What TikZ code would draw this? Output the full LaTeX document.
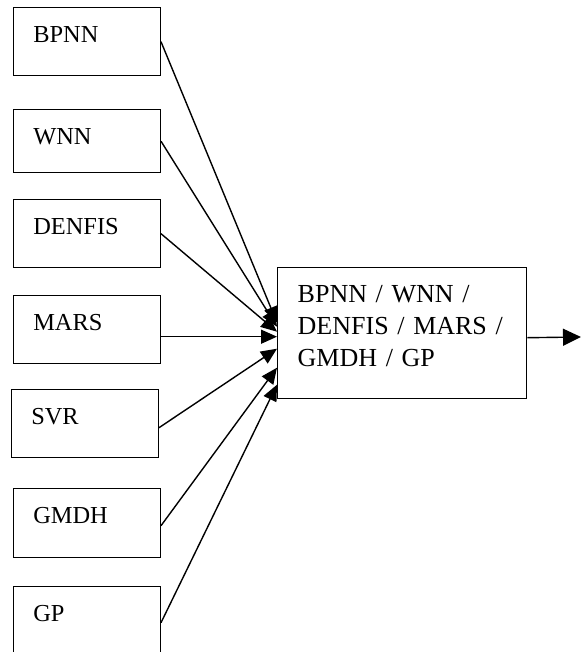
\documentclass[tikz,border=0pt]{standalone}
\usepackage{fontspec}
\setmainfont{Liberation Serif}
\usetikzlibrary{arrows.meta}
\tikzstyle{model}=[draw,line width=0.7pt,anchor=north east,inner xsep=10pt,inner ysep=0pt,
  text width=53.5pt,align=left,text height=17.5pt,text depth=16.5pt,font=\fontsize{12.2}{14}\selectfont]
\tikzstyle{hybrid}=[draw,line width=0.7pt,anchor=north west,inner xsep=10pt,inner ysep=0pt,
  text width=104.5pt,align=left,text height=17.5pt,text depth=48pt,font=\fontsize{13}{15.85}\selectfont]
\tikzstyle{edge} = [draw,line width=0.7pt,-{Triangle[length=8pt,width=7pt]}]
\tikzstyle{outedge} = [draw,line width=0.7pt,-{Triangle[length=9pt,width=8.5pt]}]

\begin{document}
\begin{tikzpicture}[x=0.5pt,y=-0.5pt]
				\useasboundingbox (0,0) rectangle (582,652);
				% Draw the single models
				\foreach \pos/\name/\txt/\dep in {{(161,7)/bpnn/BPNN/16.5}, {(161,109)/wnn/WNN/14},
										{(161,199)/denfis/DENFIS/16.5}, {(161,295)/mars/MARS/16.5}, {(159,389)/svr/SVR/16.5},
										{(161,488)/gmdh/GMDH/17}, {(161,586)/gp/GP/16.5}}
				\node[model,text depth=\dep pt] (\name) at \pos {\txt};

				% Draw the combined model
				\node[hybrid] (model) at (277,267) {\mbox{BPNN / WNN /}\\ \mbox{DENFIS / MARS /}\\ \mbox{GMDH / GP}};
				\coordinate (out) at (581,337);

				% Connect single models with the combined model
				\foreach \source/\sy/\ey in {bpnn/0/5.25, wnn/0/3.25, denfis/0/0.75, mars/-3.5/-1.75,
										svr/-2/-7.75, gmdh/-1.25/-17.25, gp/-1/-25.75}
				\path[edge] ([yshift=\sy pt]\source.east) -- ([yshift=\ey pt]model.west);

				\path[outedge] ([yshift=-2.25pt]model.east) -- (out);
			\end{tikzpicture}
\end{document}
